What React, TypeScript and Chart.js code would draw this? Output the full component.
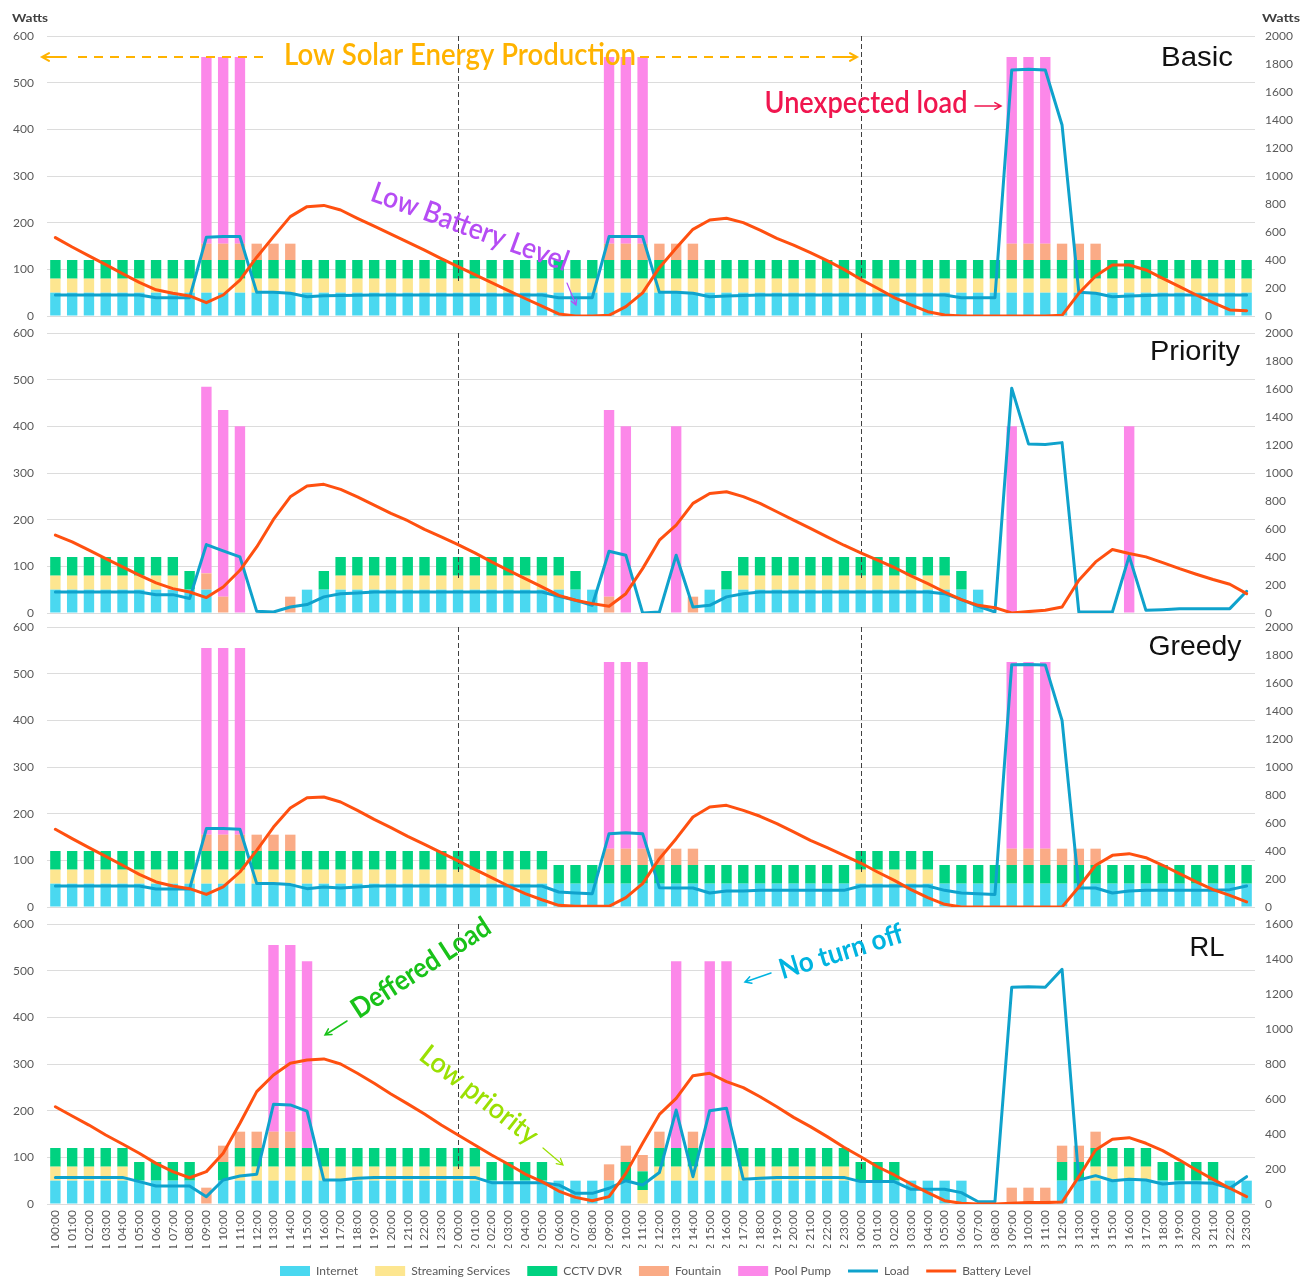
import React, { useEffect, useRef } from 'react';
import { Chart, registerables } from 'chart.js';

Chart.register(...registerables);

const FONT = 'Lato, "Open Sans", sans-serif';

// ---------- categories ----------
const days = ['1', '2', '3'];
const hours = ['00:00', '01:00', '02:00', '03:00', '04:00', '05:00', '06:00', '07:00', '08:00', '09:00', '10:00', '11:00',
  '12:00', '13:00', '14:00', '15:00', '16:00', '17:00', '18:00', '19:00', '20:00', '21:00', '22:00', '23:00'];
const labels = days.flatMap((d) => hours.map((h) => `${d} ${h}`));
const dayBreaks = ['2 00:00', '3 00:00'];

// ---------- Basic ----------
const basicInternet = [
  50,50,50,50,50,50,50,50,50,50,50,50,50,50,50,50,50,50,50,50,50,50,50,50,
  50,50,50,50,50,50,50,50,50,50,50,50,50,50,50,50,50,50,50,50,50,50,50,50,
  50,50,50,50,50,50,50,50,50,50,50,50,50,50,50,50,50,50,50,50,50,50,50,50];
const basicStreaming = [
  30,30,30,30,30,30,30,30,30,30,30,30,30,30,30,30,30,30,30,30,30,30,30,30,
  30,30,30,30,30,30,30,30,30,30,30,30,30,30,30,30,30,30,30,30,30,30,30,30,
  30,30,30,30,30,30,30,30,30,30,30,30,30,30,30,30,30,30,30,30,30,30,30,30];
const basicCctv = [
  40,40,40,40,40,40,40,40,40,40,40,40,40,40,40,40,40,40,40,40,40,40,40,40,
  40,40,40,40,40,40,40,40,40,40,40,40,40,40,40,40,40,40,40,40,40,40,40,40,
  40,40,40,40,40,40,40,40,40,40,40,40,40,40,40,40,40,40,40,40,40,40,40,40];
const basicFountain = [
  0,0,0,0,0,0,0,0,0,35,35,35,35,35,35,0,0,0,0,0,0,0,0,0,
  0,0,0,0,0,0,0,0,0,35,35,35,35,35,35,0,0,0,0,0,0,0,0,0,
  0,0,0,0,0,0,0,0,0,35,35,35,35,35,35,0,0,0,0,0,0,0,0,0];
const basicPool = [
  0,0,0,0,0,0,0,0,0,400,400,400,0,0,0,0,0,0,0,0,0,0,0,0,
  0,0,0,0,0,0,0,0,0,400,400,400,0,0,0,0,0,0,0,0,0,0,0,0,
  0,0,0,0,0,0,0,0,0,400,400,400,0,0,0,0,0,0,0,0,0,0,0,0];
const basicLoad = [
  150,150,150,150,150,150,131,131,131,563,567,567,169,169,163,138,145,147,148,150,150,150,150,150,
  150,150,150,150,150,150,131,131,131,567,567,567,169,169,162,138,143,147,150,150,150,150,150,150,
  150,150,150,150,150,150,131,131,131,1757,1762,1757,1364,169,162,138,143,147,150,150,150,150,150,150];
const basicBattery = [
  560,493,430,367,303,240,187,162,143,95,150,257,420,567,710,781,790,757,698,642,585,527,470,410,
  352,295,238,182,125,70,15,0,0,5,67,165,345,485,619,686,698,667,614,555,507,452,395,333,
  262,198,131,79,31,7,0,0,0,0,0,0,5,162,286,364,364,329,269,210,150,95,43,38];

// ---------- Priority ----------
const priorityInternet = [
  50,50,50,50,50,50,50,50,50,50,0,0,0,0,0,50,50,50,50,50,50,50,50,50,
  50,50,50,50,50,50,50,50,50,0,0,0,0,0,0,50,50,50,50,50,50,50,50,50,
  50,50,50,50,50,50,50,50,0,0,0,0,0,0,0,0,0,0,0,0,0,0,0,0];
const priorityStreaming = [
  30,30,30,30,30,30,30,30,0,0,0,0,0,0,0,0,0,30,30,30,30,30,30,30,
  30,30,30,30,30,30,30,0,0,0,0,0,0,0,0,0,0,30,30,30,30,30,30,30,
  30,30,30,30,30,30,0,0,0,0,0,0,0,0,0,0,0,0,0,0,0,0,0,0];
const priorityCctv = [
  40,40,40,40,40,40,40,40,40,0,0,0,0,0,0,0,40,40,40,40,40,40,40,40,
  40,40,40,40,40,40,40,40,0,0,0,0,0,0,0,0,40,40,40,40,40,40,40,40,
  40,40,40,40,40,40,40,0,0,0,0,0,0,0,0,0,0,0,0,0,0,0,0,0];
const priorityFountain = [
  0,0,0,0,0,0,0,0,0,35,35,0,0,0,35,0,0,0,0,0,0,0,0,0,
  0,0,0,0,0,0,0,0,0,35,0,0,0,0,35,0,0,0,0,0,0,0,0,0,
  0,0,0,0,0,0,0,0,0,0,0,0,0,0,0,0,0,0,0,0,0,0,0,0];
const priorityPool = [
  0,0,0,0,0,0,0,0,0,400,400,400,0,0,0,0,0,0,0,0,0,0,0,0,
  0,0,0,0,0,0,0,0,0,400,400,0,0,400,0,0,0,0,0,0,0,0,0,0,
  0,0,0,0,0,0,0,0,0,400,0,0,0,0,0,0,400,0,0,0,0,0,0,0];
const priorityLoad = [
  150,150,150,150,150,150,131,131,103,489,444,401,12,7,43,60,115,138,143,150,150,150,150,150,
  150,150,150,150,150,150,120,91,55,441,413,0,7,413,43,55,115,138,150,150,150,150,150,150,
  150,150,150,150,150,138,95,48,7,1606,1208,1203,1217,7,7,7,406,19,24,31,31,31,31,155];
const priorityBattery = [
  556,508,449,389,329,270,215,174,150,110,186,305,472,668,830,907,919,883,830,771,711,659,597,544,
  489,429,365,305,246,186,126,91,67,48,138,317,520,628,783,854,866,831,783,723,663,604,544,484,
  430,377,325,265,210,150,95,55,38,0,10,19,43,234,365,453,425,401,360,317,277,239,205,138];

// ---------- Greedy ----------
const greedyInternet = [
  50,50,50,50,50,50,50,50,50,50,50,50,50,50,50,50,50,50,50,50,50,50,50,50,
  50,50,50,50,50,50,50,50,50,50,50,50,50,50,50,50,50,50,50,50,50,50,50,50,
  50,50,50,50,50,50,50,50,50,50,50,50,50,50,50,50,50,50,50,50,50,50,50,50];
const greedyStreaming = [
  30,30,30,30,30,30,30,30,30,30,30,30,30,30,30,30,30,30,30,30,30,30,30,30,
  30,30,30,30,30,30,0,0,0,0,0,0,0,0,0,0,0,0,0,0,0,0,0,0,
  30,30,30,30,30,0,0,0,0,0,0,0,0,0,0,0,0,0,0,0,0,0,0,0];
const greedyCctv = [
  40,40,40,40,40,40,40,40,40,40,40,40,40,40,40,40,40,40,40,40,40,40,40,40,
  40,40,40,40,40,40,40,40,40,40,40,40,40,40,40,40,40,40,40,40,40,40,40,40,
  40,40,40,40,40,40,40,40,40,40,40,40,40,40,40,40,40,40,40,40,40,40,40,40];
const greedyFountain = [
  0,0,0,0,0,0,0,0,0,35,35,35,35,35,35,0,0,0,0,0,0,0,0,0,
  0,0,0,0,0,0,0,0,0,35,35,35,35,35,35,0,0,0,0,0,0,0,0,0,
  0,0,0,0,0,0,0,0,0,35,35,35,35,35,35,0,0,0,0,0,0,0,0,0];
const greedyPool = [
  0,0,0,0,0,0,0,0,0,400,400,400,0,0,0,0,0,0,0,0,0,0,0,0,
  0,0,0,0,0,0,0,0,0,400,400,400,0,0,0,0,0,0,0,0,0,0,0,0,
  0,0,0,0,0,0,0,0,0,400,400,400,0,0,0,0,0,0,0,0,0,0,0,0];
const greedyLoad = [
  150,150,150,150,150,150,129,129,129,560,560,555,167,167,160,131,143,136,143,150,150,150,150,150,
  150,150,150,150,150,150,107,100,95,524,531,524,138,136,136,100,114,114,119,119,119,119,119,119,
  150,150,150,150,150,119,100,95,90,1731,1733,1729,1333,136,136,100,114,119,119,119,119,119,124,150];
const greedyBattery = [
  555,488,424,362,298,233,179,150,131,90,143,250,405,571,707,781,786,750,690,626,567,505,448,388,
  329,269,210,150,95,52,12,5,5,5,67,167,345,488,643,714,726,690,648,595,536,476,424,369,
  314,250,190,124,67,19,0,0,0,0,0,0,0,143,298,369,381,352,298,238,179,124,83,36];

// ---------- RL ----------
const rlInternet = [
  50,50,50,50,50,50,50,50,50,0,50,50,50,50,50,50,50,50,50,50,50,50,50,50,
  50,50,50,50,50,50,50,50,50,50,50,0,50,50,50,50,50,50,50,50,50,50,50,50,
  50,50,50,50,50,50,50,0,0,0,0,0,50,50,50,50,50,50,50,50,50,50,50,50];
const rlStreaming = [
  30,30,30,30,30,0,0,0,0,0,0,30,30,30,30,30,30,30,30,30,30,30,30,30,
  30,30,0,0,0,0,0,0,0,0,0,30,30,30,30,30,30,30,30,30,30,30,30,30,
  0,0,0,0,0,0,0,0,0,0,0,0,0,0,30,30,30,30,0,0,0,0,0,0];
const rlCctv = [
  40,40,40,40,40,40,40,40,40,0,40,40,40,40,40,40,40,40,40,40,40,40,40,40,
  40,40,40,40,40,40,0,0,0,0,40,40,40,40,40,40,40,40,40,40,40,40,40,40,
  40,40,40,0,0,0,0,0,0,0,0,0,40,40,40,40,40,40,40,40,40,40,0,0];
const rlFountain = [
  0,0,0,0,0,0,0,0,0,35,35,35,35,35,35,0,0,0,0,0,0,0,0,0,
  0,0,0,0,0,0,0,0,0,35,35,35,35,0,35,0,0,0,0,0,0,0,0,0,
  0,0,0,0,0,0,0,0,0,35,35,35,35,35,35,0,0,0,0,0,0,0,0,0];
const rlPool = [
  0,0,0,0,0,0,0,0,0,0,0,0,0,400,400,400,0,0,0,0,0,0,0,0,
  0,0,0,0,0,0,0,0,0,0,0,0,0,400,0,400,400,0,0,0,0,0,0,0,
  0,0,0,0,0,0,0,0,0,0,0,0,0,0,0,0,0,0,0,0,0,0,0,0];
const rlLoad = [
  152,152,152,152,152,128,103,103,103,42,137,160,170,570,566,531,137,137,147,152,152,152,152,152,
  152,152,122,122,122,122,109,61,61,90,133,109,180,537,156,533,547,141,147,152,152,152,152,152,
  128,128,128,84,84,84,65,13,13,1238,1242,1238,1341,137,162,133,141,137,114,122,122,118,90,156];
const rlBattery = [
  556,503,451,394,343,290,232,185,150,185,290,461,642,737,804,823,829,800,747,690,629,572,514,451,
  394,337,280,227,171,128,74,38,19,42,175,347,512,604,733,747,699,665,613,556,495,442,385,324,
  270,213,166,114,65,19,4,0,0,4,8,8,11,156,309,370,379,347,305,251,194,141,90,42];

// ---------- styling ----------
const COLORS = {
  internet: '#4ad8f0',
  streaming: '#fde690',
  cctv: '#00d280',
  fountain: '#faab86',
  pool: '#fc88e9',
  load: '#0fa2cc',
  battery: '#ff5010',
};
const TICK_COLOR = '#595959';
const GRID_COLOR = '#dcdcdc';

type Note =
  | { kind: 'text'; text: string; x: number; y: number; angle: number; color: string; size: number; weight: string; width: number; family?: string }
  | { kind: 'arrow'; x1: number; y1: number; x2: number; y2: number; color: string; lw: number; head: number }
  | { kind: 'dash'; x1: number; y1: number; x2: number; y2: number; color: string; lw: number; dash: number[] };

const SOLAR = '#ffb300';
const RED = '#f0164f';
const PURPLE = '#b64cf4';
const GREEN = '#19c219';
const LIME = '#9be003';
const CYAN = '#00b4e0';
const TITLE_FONT = '"Liberation Sans", Arial, sans-serif';

const title = (text: string, x: number, y: number, width: number): Note =>
  ({ kind: 'text', text, x, y, angle: 0, color: '#111111', size: 28, weight: 'normal', width, family: TITLE_FONT });

const panels = [
  {
    key: 'basic', top: 0, height: 330, padTop: 36, padBottom: 14, rightMax: 2000, showX: false,
    internet: basicInternet, streaming: basicStreaming, cctv: basicCctv, fountain: basicFountain, pool: basicPool,
    load: basicLoad, battery: basicBattery,
    notes: [
      { kind: 'text', text: 'Watts', x: 30, y: 18, angle: 0, color: '#404040', size: 12, weight: 'bold', width: 36 },
      { kind: 'text', text: 'Watts', x: 1281, y: 18, angle: 0, color: '#404040', size: 12, weight: 'bold', width: 38 },
      title('Basic', 1197, 58, 72),
      { kind: 'text', text: 'Low Solar Energy Production', x: 460, y: 55, angle: 0, color: SOLAR, size: 30, weight: '600', width: 352 },
      { kind: 'arrow', x1: 66, y1: 57, x2: 42, y2: 57, color: SOLAR, lw: 2, head: 8 },
      { kind: 'dash', x1: 78, y1: 57, x2: 268, y2: 57, color: SOLAR, lw: 2, dash: [9, 7] },
      { kind: 'dash', x1: 640, y1: 57, x2: 828, y2: 57, color: SOLAR, lw: 2, dash: [9, 7] },
      { kind: 'arrow', x1: 833, y1: 57, x2: 857, y2: 57, color: SOLAR, lw: 2, head: 8 },
      { kind: 'text', text: 'Unexpected load', x: 866, y: 103, angle: 0, color: RED, size: 30, weight: '600', width: 203 },
      { kind: 'arrow', x1: 975, y1: 106, x2: 1001, y2: 106, color: RED, lw: 1.5, head: 7 },
      { kind: 'text', text: 'Low Battery Level', x: 470, y: 227, angle: 20, color: PURPLE, size: 29, weight: '600', width: 208 },
      { kind: 'arrow', x1: 567, y1: 283, x2: 576, y2: 305, color: PURPLE, lw: 1.2, head: 6 },
    ] as Note[],
  },
  {
    key: 'priority', top: 316, height: 311, padTop: 17, padBottom: 14, rightMax: 2000, showX: false,
    internet: priorityInternet, streaming: priorityStreaming, cctv: priorityCctv, fountain: priorityFountain, pool: priorityPool,
    load: priorityLoad, battery: priorityBattery,
    notes: [title('Priority', 1195, 352, 90)] as Note[],
  },
  {
    key: 'greedy', top: 613, height: 308, padTop: 14, padBottom: 14, rightMax: 2000, showX: false,
    internet: greedyInternet, streaming: greedyStreaming, cctv: greedyCctv, fountain: greedyFountain, pool: greedyPool,
    load: greedyLoad, battery: greedyBattery,
    notes: [title('Greedy', 1195, 647, 93)] as Note[],
  },
  {
    key: 'rl', top: 907, height: 380, padTop: 17, padBottom: 0, rightMax: 1600, showX: true,
    internet: rlInternet, streaming: rlStreaming, cctv: rlCctv, fountain: rlFountain, pool: rlPool,
    load: rlLoad, battery: rlBattery,
    notes: [
      title('RL', 1207, 948, 35),
      { kind: 'text', text: 'Deffered Load', x: 421, y: 968, angle: -33, color: GREEN, size: 28, weight: 'bold', width: 160 },
      { kind: 'arrow', x1: 347, y1: 1021, x2: 325, y2: 1035, color: GREEN, lw: 1.5, head: 7 },
      { kind: 'text', text: 'Low priority', x: 479, y: 1095, angle: 38, color: LIME, size: 28, weight: '600', width: 142 },
      { kind: 'arrow', x1: 543, y1: 1148, x2: 563, y2: 1165, color: LIME, lw: 1.2, head: 7 },
      { kind: 'text', text: 'No turn off', x: 841, y: 952, angle: -17, color: CYAN, size: 28, weight: 'bold', width: 128 },
      { kind: 'arrow', x1: 771, y1: 973, x2: 745, y2: 982, color: CYAN, lw: 1.5, head: 7 },
    ] as Note[],
  },
];

type PanelSpec = typeof panels[number];

function drawNote(ctx: CanvasRenderingContext2D, n: Note, offY: number) {
  ctx.save();
  if (n.kind === 'text') {
    ctx.translate(n.x, n.y - offY);
    ctx.rotate((n.angle * Math.PI) / 180);
    ctx.font = `${n.weight} ${n.size}px ${n.family || FONT}`;
    const w = ctx.measureText(n.text).width;
    ctx.scale(n.width / w, 1);
    ctx.fillStyle = n.color;
    ctx.textAlign = 'center';
    ctx.textBaseline = 'middle';
    ctx.fillText(n.text, 0, 0);
  } else if (n.kind === 'arrow') {
    const y1 = n.y1 - offY;
    const y2 = n.y2 - offY;
    const ang = Math.atan2(y2 - y1, n.x2 - n.x1);
    ctx.strokeStyle = n.color;
    ctx.lineWidth = n.lw;
    ctx.lineCap = 'round';
    ctx.beginPath();
    ctx.moveTo(n.x1, y1);
    ctx.lineTo(n.x2, y2);
    ctx.moveTo(n.x2 - n.head * Math.cos(ang - 0.5), y2 - n.head * Math.sin(ang - 0.5));
    ctx.lineTo(n.x2, y2);
    ctx.lineTo(n.x2 - n.head * Math.cos(ang + 0.5), y2 - n.head * Math.sin(ang + 0.5));
    ctx.stroke();
  } else {
    ctx.strokeStyle = n.color;
    ctx.lineWidth = n.lw;
    ctx.setLineDash(n.dash);
    ctx.beginPath();
    ctx.moveTo(n.x1, n.y1 - offY);
    ctx.lineTo(n.x2, n.y2 - offY);
    ctx.stroke();
  }
  ctx.restore();
}

const overlayPlugin = (p: PanelSpec) => ({
  id: 'overlay_' + p.key,
  beforeDatasetDraw(chart: any, args: any) {
    if (args.index !== 5) return;
    const { ctx, chartArea, scales } = chart;
    ctx.save();
    ctx.strokeStyle = '#404040';
    ctx.lineWidth = 1;
    ctx.setLineDash([5, 3]);
    for (const lab of dayBreaks) {
      const x = Math.round(scales.x.getPixelForValue(labels.indexOf(lab))) + 0.5;
      ctx.beginPath();
      ctx.moveTo(x, chartArea.top);
      ctx.lineTo(x, scales.y.getPixelForValue(72));
      ctx.stroke();
    }
    ctx.restore();
  },
  afterDraw(chart: any) {
    for (const n of p.notes) drawNote(chart.ctx, n, p.top);
  },
});

const plainTick = (v: any) => String(v);

function buildConfig(p: PanelSpec): any {
  const bar = (label: string, data: number[], color: string) => ({
    type: 'bar', label, data, backgroundColor: color, borderWidth: 0, yAxisID: 'y', stack: 'devices',
    order: 2, pointStyle: 'rect', barPercentage: 0.62, categoryPercentage: 1,
  });
  const line = (label: string, data: number[], color: string, order: number) => ({
    type: 'line', label, data, borderColor: color, backgroundColor: color, borderWidth: 3, yAxisID: 'y1',
    pointRadius: 0, pointHoverRadius: 0, tension: 0, order, pointStyle: 'line', fill: false,
    borderJoinStyle: 'round', borderCapStyle: 'round',
  });
  const tickFont = { family: FONT, size: 12 };
  return {
    type: 'bar',
    data: {
      labels,
      datasets: [
        bar('Internet', p.internet, COLORS.internet),
        bar('Streaming Services', p.streaming, COLORS.streaming),
        bar('CCTV DVR', p.cctv, COLORS.cctv),
        bar('Fountain', p.fountain, COLORS.fountain),
        bar('Pool Pump', p.pool, COLORS.pool),
        line('Load', p.load, COLORS.load, 1),
        line('Battery Level', p.battery, COLORS.battery, 0),
      ],
    },
    options: {
      responsive: false,
      animation: false,
      events: [],
      layout: { padding: { top: p.padTop, bottom: p.padBottom, left: 0, right: 0 } },
      plugins: {
        tooltip: { enabled: false },
        title: { display: false },
        legend: p.showX
          ? {
              display: true,
              position: 'bottom',
              labels: {
                usePointStyle: true,
                pointStyleWidth: 30,
                boxWidth: 30,
                boxHeight: 10,
                padding: 17,
                color: TICK_COLOR,
                font: { family: FONT, size: 12 },
                sort: (a: any, b: any) => a.datasetIndex - b.datasetIndex,
              },
            }
          : { display: false },
      },
      scales: {
        x: {
          type: 'category',
          display: p.showX,
          stacked: true,
          offset: true,
          grid: { display: false, drawTicks: false },
          border: { display: false },
          ticks: { autoSkip: false, maxRotation: 90, minRotation: 90, color: TICK_COLOR, font: tickFont, padding: 6 },
          afterFit: (s: any) => { s.height = p.showX ? 44 : 0; },
        },
        y: {
          position: 'left',
          min: 0,
          max: 600,
          stacked: true,
          ticks: { stepSize: 100, color: TICK_COLOR, font: tickFont, padding: 0, callback: plainTick },
          grid: { color: GRID_COLOR, drawTicks: true, tickLength: 13, tickColor: 'rgba(0,0,0,0)', lineWidth: 1 },
          border: { display: false },
          afterFit: (s: any) => { s.width = 47; },
        },
        y1: {
          position: 'right',
          min: 0,
          max: p.rightMax,
          stacked: false,
          ticks: { stepSize: 200, color: TICK_COLOR, font: tickFont, padding: 0, callback: plainTick },
          grid: { drawOnChartArea: false, drawTicks: true, tickLength: 10, tickColor: 'rgba(0,0,0,0)' },
          border: { display: false },
          afterFit: (s: any) => { s.width = 56; },
        },
      },
    },
    plugins: [overlayPlugin(p)],
  };
}

function Panel({ spec }: { spec: PanelSpec }) {
  const ref = useRef<HTMLCanvasElement>(null);
  useEffect(() => {
    if (!ref.current) return;
    const chart = new Chart(ref.current, buildConfig(spec));
    return () => chart.destroy();
  }, [spec]);
  return (
    <canvas
      ref={ref}
      width={1311}
      height={spec.height}
      style={{ position: 'absolute', left: 0, top: spec.top, width: 1311, height: spec.height }}
    />
  );
}

export default function App() {
  return (
    <div style={{ position: 'absolute', left: 0, top: 0, width: 1311, height: 1280, overflow: 'hidden', background: '#ffffff' }}>
      {panels.map((p) => (
        <Panel key={p.key} spec={p} />
      ))}
    </div>
  );
}
